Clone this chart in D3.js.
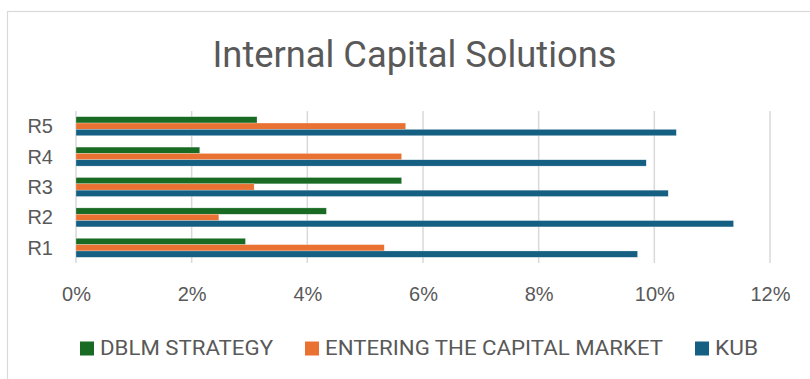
<!DOCTYPE html>
<html>
<head>
<meta charset="utf-8">
<script src="https://cdn.jsdelivr.net/npm/d3@7"></script>
<style>
  html, body { margin: 0; padding: 0; background: #ffffff; }
  svg { display: block; font-family: Roboto, "Open Sans", "DejaVu Sans", sans-serif; }
</style>
</head>
<body>
<svg id="chart" width="810" height="379"></svg>
<script>
// Chart data
const title = "Internal Capital Solutions";
const categories = ["R1", "R2", "R3", "R4", "R5"];
const seriesNames = ["DBLM STRATEGY", "ENTERING THE CAPITAL MARKET", "KUB"];
const dblmStrategy = [2.93, 4.33, 5.63, 2.14, 3.13];
const enteringCapitalMarket = [5.33, 2.47, 3.08, 5.63, 5.70];
const kub = [9.71, 11.37, 10.24, 9.86, 10.38];
const tickValues = [0, 2, 4, 6, 8, 10, 12];

const seriesValues = [dblmStrategy, enteringCapitalMarket, kub];
const colors = ["#196b24", "#e97132", "#156082"];
const textColor = "#595959";

const svg = d3.select("#chart");

// Outer frame of the chart area
svg.append("rect")
  .attr("x", 7.5).attr("y", 11.5)
  .attr("width", 820).attr("height", 380)
  .attr("fill", "#ffffff")
  .attr("stroke", "#d9d9d9").attr("stroke-width", 1.2);

const plot = { left: 76, right: 770, top: 111, bottom: 263 };

const x = d3.scaleLinear().domain([0, 12]).range([plot.left, plot.right]);

// R5 at top, R1 at bottom
const y = d3.scaleBand()
  .domain(categories.slice().reverse())
  .range([plot.top, plot.bottom])
  .paddingInner(0.375)
  .paddingOuter(0.1875);

const ySub = d3.scaleBand()
  .domain(seriesNames)
  .range([0, y.bandwidth()]);

// Vertical gridlines
svg.append("g")
  .selectAll("line")
  .data(tickValues)
  .join("line")
  .attr("x1", d => x(d)).attr("x2", d => x(d))
  .attr("y1", plot.top).attr("y2", plot.bottom)
  .attr("stroke", "#d9d9d9").attr("stroke-width", 1.5);

// X tick labels
const xAxis = d3.axisBottom(x).tickValues(tickValues).tickFormat(d => d + "%").tickSize(0).tickPadding(0);
const gx = svg.append("g").attr("transform", `translate(0, ${287})`).call(xAxis);
gx.select(".domain").remove();
gx.selectAll("text")
  .attr("fill", textColor)
  .attr("font-size", 20)
  .attr("dy", "0.71em")
  .attr("y", 0);

// Y category labels
const yAxis = d3.axisLeft(y).tickSize(0).tickPadding(0);
const gy = svg.append("g").attr("transform", `translate(${53}, 0)`).call(yAxis);
gy.select(".domain").remove();
gy.selectAll("text")
  .attr("fill", textColor)
  .attr("font-size", 20)
  .attr("dy", "0.35em");

// Bars
const groups = svg.append("g")
  .selectAll("g")
  .data(categories)
  .join("g")
  .attr("transform", d => `translate(0, ${y(d)})`);

groups.selectAll("rect")
  .data((d, i) => seriesNames.map((s, j) => ({ series: s, value: seriesValues[j][i], color: colors[j] })))
  .join("rect")
  .attr("x", x(0))
  .attr("y", d => ySub(d.series))
  .attr("width", d => x(d.value) - x(0))
  .attr("height", ySub.bandwidth())
  .attr("fill", d => d.color)
  .attr("stroke", "#ffffff")
  .attr("stroke-opacity", 0.5)
  .attr("stroke-width", 0.5);

// Title
svg.append("text")
  .attr("x", 414.5).attr("y", 66.5)
  .attr("text-anchor", "middle")
  .attr("fill", textColor)
  .attr("font-size", 36)
  .attr("textLength", 404)
  .attr("lengthAdjust", "spacingAndGlyphs")
  .text(title);

// Legend
const legendItems = [
  { name: seriesNames[0], color: colors[0], sx: 80, tx: 100, tw: 173 },
  { name: seriesNames[1], color: colors[1], sx: 305, tx: 325, tw: 338 },
  { name: seriesNames[2], color: colors[2], sx: 695, tx: 715, tw: 43 }
];
const legend = svg.append("g");
legend.selectAll("rect")
  .data(legendItems)
  .join("rect")
  .attr("x", d => d.sx).attr("y", 341.5)
  .attr("width", 14).attr("height", 14)
  .attr("fill", d => d.color);
legend.selectAll("text")
  .data(legendItems)
  .join("text")
  .attr("x", d => d.tx).attr("y", 355)
  .attr("fill", textColor)
  .attr("font-size", 20)
  .attr("textLength", d => d.tw)
  .attr("lengthAdjust", "spacingAndGlyphs")
  .text(d => d.name);
</script>
</body>
</html>
